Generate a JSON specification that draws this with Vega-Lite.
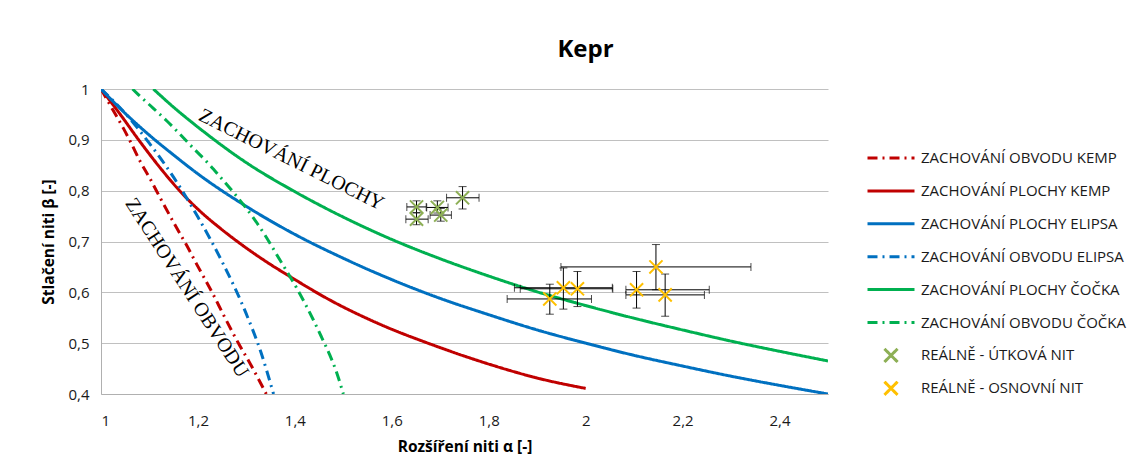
{
 "$schema": "https://vega.github.io/schema/vega-lite/v6.json",
 "width": 727, "height": 305,
 "autosize": {"type": "none"},
 "padding": {"left": 101, "top": 89, "right": 315, "bottom": 77},
 "background": "white",
 "title": {"text": "Kepr", "font": "Open Sans", "fontSize": 24, "fontWeight": "bold", "color": "#000", "anchor": "middle", "frame": "group", "dx": 121, "offset": 20},
 "config": {
  "view": {"stroke": null},
  "axis": {"labelFont": "Open Sans", "labelFontSize": 15, "labelColor": "#1a1a1a", "titleFont": "Open Sans", "titleFontSize": 15.5, "titleFontWeight": "bold", "titleColor": "#000", "tickSize": 0, "domainColor": "#b0b0b0", "gridColor": "#c0c0c0"},
  "legend": {"orient": "none", "legendX": 765, "legendY": 61, "padding": 0, "labelOffset": 5, "rowPadding": 16.9, "clipHeight": 16, "symbolSize": 2209, "symbolStrokeWidth": 3, "labelLimit": 400, "labelFont": "Open Sans", "labelFontSize": 15, "labelColor": "#1a1a1a", "symbolFillColor": "transparent"}
 },
 "data": {"values": [
  {"k":"line","s":"ZACHOVÁNÍ OBVODU KEMP","a":1,"b":1},
  {"k":"line","s":"ZACHOVÁNÍ OBVODU KEMP","a":1.025,"b":0.958},
  {"k":"line","s":"ZACHOVÁNÍ OBVODU KEMP","a":1.046,"b":0.923},
  {"k":"line","s":"ZACHOVÁNÍ OBVODU KEMP","a":1.063,"b":0.892},
  {"k":"line","s":"ZACHOVÁNÍ OBVODU KEMP","a":1.08,"b":0.859},
  {"k":"line","s":"ZACHOVÁNÍ OBVODU KEMP","a":1.101,"b":0.824},
  {"k":"line","s":"ZACHOVÁNÍ OBVODU KEMP","a":1.122,"b":0.786},
  {"k":"line","s":"ZACHOVÁNÍ OBVODU KEMP","a":1.156,"b":0.727},
  {"k":"line","s":"ZACHOVÁNÍ OBVODU KEMP","a":1.177,"b":0.692},
  {"k":"line","s":"ZACHOVÁNÍ OBVODU KEMP","a":1.197,"b":0.656},
  {"k":"line","s":"ZACHOVÁNÍ OBVODU KEMP","a":1.232,"b":0.595},
  {"k":"line","s":"ZACHOVÁNÍ OBVODU KEMP","a":1.252,"b":0.557},
  {"k":"line","s":"ZACHOVÁNÍ OBVODU KEMP","a":1.287,"b":0.494},
  {"k":"line","s":"ZACHOVÁNÍ OBVODU KEMP","a":1.307,"b":0.461},
  {"k":"line","s":"ZACHOVÁNÍ OBVODU KEMP","a":1.341,"b":0.4},

  {"k":"line","s":"ZACHOVÁNÍ PLOCHY KEMP","a":1,"b":1},
  {"k":"line","s":"ZACHOVÁNÍ PLOCHY KEMP","a":1.039,"b":0.951},
  {"k":"line","s":"ZACHOVÁNÍ PLOCHY KEMP","a":1.08,"b":0.897},
  {"k":"line","s":"ZACHOVÁNÍ PLOCHY KEMP","a":1.122,"b":0.845},
  {"k":"line","s":"ZACHOVÁNÍ PLOCHY KEMP","a":1.163,"b":0.799},
  {"k":"line","s":"ZACHOVÁNÍ PLOCHY KEMP","a":1.204,"b":0.760},
  {"k":"line","s":"ZACHOVÁNÍ PLOCHY KEMP","a":1.246,"b":0.726},
  {"k":"line","s":"ZACHOVÁNÍ PLOCHY KEMP","a":1.28,"b":0.701},
  {"k":"line","s":"ZACHOVÁNÍ PLOCHY KEMP","a":1.335,"b":0.664},
  {"k":"line","s":"ZACHOVÁNÍ PLOCHY KEMP","a":1.39,"b":0.631},
  {"k":"line","s":"ZACHOVÁNÍ PLOCHY KEMP","a":1.472,"b":0.585},
  {"k":"line","s":"ZACHOVÁNÍ PLOCHY KEMP","a":1.576,"b":0.537},
  {"k":"line","s":"ZACHOVÁNÍ PLOCHY KEMP","a":1.686,"b":0.496},
  {"k":"line","s":"ZACHOVÁNÍ PLOCHY KEMP","a":1.803,"b":0.458},
  {"k":"line","s":"ZACHOVÁNÍ PLOCHY KEMP","a":1.906,"b":0.430},
  {"k":"line","s":"ZACHOVÁNÍ PLOCHY KEMP","a":2.0,"b":0.411},

  {"k":"line","s":"ZACHOVÁNÍ PLOCHY ELIPSA","a":1,"b":1},
  {"k":"line","s":"ZACHOVÁNÍ PLOCHY ELIPSA","a":1.05,"b":0.952},
  {"k":"line","s":"ZACHOVÁNÍ PLOCHY ELIPSA","a":1.1,"b":0.909},
  {"k":"line","s":"ZACHOVÁNÍ PLOCHY ELIPSA","a":1.15,"b":0.870},
  {"k":"line","s":"ZACHOVÁNÍ PLOCHY ELIPSA","a":1.2,"b":0.833},
  {"k":"line","s":"ZACHOVÁNÍ PLOCHY ELIPSA","a":1.3,"b":0.769},
  {"k":"line","s":"ZACHOVÁNÍ PLOCHY ELIPSA","a":1.4,"b":0.714},
  {"k":"line","s":"ZACHOVÁNÍ PLOCHY ELIPSA","a":1.5,"b":0.667},
  {"k":"line","s":"ZACHOVÁNÍ PLOCHY ELIPSA","a":1.6,"b":0.625},
  {"k":"line","s":"ZACHOVÁNÍ PLOCHY ELIPSA","a":1.7,"b":0.588},
  {"k":"line","s":"ZACHOVÁNÍ PLOCHY ELIPSA","a":1.8,"b":0.556},
  {"k":"line","s":"ZACHOVÁNÍ PLOCHY ELIPSA","a":1.9,"b":0.526},
  {"k":"line","s":"ZACHOVÁNÍ PLOCHY ELIPSA","a":2.0,"b":0.5},
  {"k":"line","s":"ZACHOVÁNÍ PLOCHY ELIPSA","a":2.1,"b":0.476},
  {"k":"line","s":"ZACHOVÁNÍ PLOCHY ELIPSA","a":2.2,"b":0.455},
  {"k":"line","s":"ZACHOVÁNÍ PLOCHY ELIPSA","a":2.3,"b":0.435},
  {"k":"line","s":"ZACHOVÁNÍ PLOCHY ELIPSA","a":2.4,"b":0.417},
  {"k":"line","s":"ZACHOVÁNÍ PLOCHY ELIPSA","a":2.5,"b":0.4},

  {"k":"line","s":"ZACHOVÁNÍ OBVODU ELIPSA","a":1,"b":1},
  {"k":"line","s":"ZACHOVÁNÍ OBVODU ELIPSA","a":1.05,"b":0.952},
  {"k":"line","s":"ZACHOVÁNÍ OBVODU ELIPSA","a":1.1,"b":0.893},
  {"k":"line","s":"ZACHOVÁNÍ OBVODU ELIPSA","a":1.15,"b":0.826},
  {"k":"line","s":"ZACHOVÁNÍ OBVODU ELIPSA","a":1.2,"b":0.748},
  {"k":"line","s":"ZACHOVÁNÍ OBVODU ELIPSA","a":1.25,"b":0.66},
  {"k":"line","s":"ZACHOVÁNÍ OBVODU ELIPSA","a":1.3,"b":0.557},
  {"k":"line","s":"ZACHOVÁNÍ OBVODU ELIPSA","a":1.33,"b":0.482},
  {"k":"line","s":"ZACHOVÁNÍ OBVODU ELIPSA","a":1.356,"b":0.4},

  {"k":"line","s":"ZACHOVÁNÍ PLOCHY ČOČKA","a":1.108,"b":1.0},
  {"k":"line","s":"ZACHOVÁNÍ PLOCHY ČOČKA","a":1.15,"b":0.964},
  {"k":"line","s":"ZACHOVÁNÍ PLOCHY ČOČKA","a":1.2,"b":0.925},
  {"k":"line","s":"ZACHOVÁNÍ PLOCHY ČOČKA","a":1.3,"b":0.855},
  {"k":"line","s":"ZACHOVÁNÍ PLOCHY ČOČKA","a":1.4,"b":0.798},
  {"k":"line","s":"ZACHOVÁNÍ PLOCHY ČOČKA","a":1.5,"b":0.748},
  {"k":"line","s":"ZACHOVÁNÍ PLOCHY ČOČKA","a":1.6,"b":0.704},
  {"k":"line","s":"ZACHOVÁNÍ PLOCHY ČOČKA","a":1.7,"b":0.666},
  {"k":"line","s":"ZACHOVÁNÍ PLOCHY ČOČKA","a":1.8,"b":0.632},
  {"k":"line","s":"ZACHOVÁNÍ PLOCHY ČOČKA","a":1.9,"b":0.601},
  {"k":"line","s":"ZACHOVÁNÍ PLOCHY ČOČKA","a":2.0,"b":0.574},
  {"k":"line","s":"ZACHOVÁNÍ PLOCHY ČOČKA","a":2.1,"b":0.549},
  {"k":"line","s":"ZACHOVÁNÍ PLOCHY ČOČKA","a":2.2,"b":0.526},
  {"k":"line","s":"ZACHOVÁNÍ PLOCHY ČOČKA","a":2.3,"b":0.504},
  {"k":"line","s":"ZACHOVÁNÍ PLOCHY ČOČKA","a":2.4,"b":0.484},
  {"k":"line","s":"ZACHOVÁNÍ PLOCHY ČOČKA","a":2.5,"b":0.465},

  {"k":"line","s":"ZACHOVÁNÍ OBVODU ČOČKA","a":1.065,"b":1.0},
  {"k":"line","s":"ZACHOVÁNÍ OBVODU ČOČKA","a":1.077,"b":0.989},
  {"k":"line","s":"ZACHOVÁNÍ OBVODU ČOČKA","a":1.108,"b":0.962},
  {"k":"line","s":"ZACHOVÁNÍ OBVODU ČOČKA","a":1.136,"b":0.937},
  {"k":"line","s":"ZACHOVÁNÍ OBVODU ČOČKA","a":1.163,"b":0.911},
  {"k":"line","s":"ZACHOVÁNÍ OBVODU ČOČKA","a":1.19,"b":0.884},
  {"k":"line","s":"ZACHOVÁNÍ OBVODU ČOČKA","a":1.225,"b":0.850},
  {"k":"line","s":"ZACHOVÁNÍ OBVODU ČOČKA","a":1.246,"b":0.827},
  {"k":"line","s":"ZACHOVÁNÍ OBVODU ČOČKA","a":1.273,"b":0.797},
  {"k":"line","s":"ZACHOVÁNÍ OBVODU ČOČKA","a":1.314,"b":0.747},
  {"k":"line","s":"ZACHOVÁNÍ OBVODU ČOČKA","a":1.342,"b":0.707},
  {"k":"line","s":"ZACHOVÁNÍ OBVODU ČOČKA","a":1.362,"b":0.675},
  {"k":"line","s":"ZACHOVÁNÍ OBVODU ČOČKA","a":1.383,"b":0.642},
  {"k":"line","s":"ZACHOVÁNÍ OBVODU ČOČKA","a":1.404,"b":0.608},
  {"k":"line","s":"ZACHOVÁNÍ OBVODU ČOČKA","a":1.421,"b":0.578},
  {"k":"line","s":"ZACHOVÁNÍ OBVODU ČOČKA","a":1.438,"b":0.546},
  {"k":"line","s":"ZACHOVÁNÍ OBVODU ČOČKA","a":1.455,"b":0.512},
  {"k":"line","s":"ZACHOVÁNÍ OBVODU ČOČKA","a":1.472,"b":0.477},
  {"k":"line","s":"ZACHOVÁNÍ OBVODU ČOČKA","a":1.486,"b":0.443},
  {"k":"line","s":"ZACHOVÁNÍ OBVODU ČOČKA","a":1.5,"b":0.4},

  {"k":"pt","s":"REÁLNĚ - ÚTKOVÁ NIT","a":1.651,"b":0.768,"alo":1.631,"ahi":1.671,"blo":0.757,"bhi":0.780},
  {"k":"pt","s":"REÁLNĚ - ÚTKOVÁ NIT","a":1.651,"b":0.744,"alo":1.629,"ahi":1.675,"blo":0.733,"bhi":0.756},
  {"k":"pt","s":"REÁLNĚ - ÚTKOVÁ NIT","a":1.694,"b":0.767,"alo":1.672,"ahi":1.716,"blo":0.756,"bhi":0.780},
  {"k":"pt","s":"REÁLNĚ - ÚTKOVÁ NIT","a":1.701,"b":0.752,"alo":1.679,"ahi":1.723,"blo":0.740,"bhi":0.765},
  {"k":"pt","s":"REÁLNĚ - ÚTKOVÁ NIT","a":1.746,"b":0.786,"alo":1.713,"ahi":1.780,"blo":0.764,"bhi":0.808},
  {"k":"pt","s":"REÁLNĚ - OSNOVNÍ NIT","a":1.926,"b":0.587,"alo":1.838,"ahi":2.012,"blo":0.557,"bhi":0.616},
  {"k":"pt","s":"REÁLNĚ - OSNOVNÍ NIT","a":1.954,"b":0.609,"alo":1.853,"ahi":2.055,"blo":0.567,"bhi":0.648},
  {"k":"pt","s":"REÁLNĚ - OSNOVNÍ NIT","a":1.983,"b":0.607,"alo":1.865,"ahi":2.056,"blo":0.572,"bhi":0.641},
  {"k":"pt","s":"REÁLNĚ - OSNOVNÍ NIT","a":2.105,"b":0.605,"alo":2.083,"ahi":2.255,"blo":0.569,"bhi":0.641},
  {"k":"pt","s":"REÁLNĚ - OSNOVNÍ NIT","a":2.145,"b":0.650,"alo":1.949,"ahi":2.341,"blo":0.605,"bhi":0.694},
  {"k":"pt","s":"REÁLNĚ - OSNOVNÍ NIT","a":2.164,"b":0.595,"alo":2.083,"ahi":2.245,"blo":0.553,"bhi":0.636},

  {"k":"n1","t":"ZACHOVÁNÍ PLOCHY","a":1.393,"b":0.861},
  {"k":"n2","t":"ZACHOVÁNÍ OBVODU","a":1.177,"b":0.609}
 ]},
 "layer": [
  {
   "transform": [{"filter": "datum.k==='line'"}],
   "mark": {"type": "line", "strokeWidth": 3, "clip": true, "interpolate": "monotone"},
   "encoding": {
    "x": {"field": "a", "type": "quantitative", "title": "Rozšíření niti α [-]",
          "scale": {"domain": [1, 2.5], "nice": false, "zero": false},
          "axis": {"values": [1, 1.2, 1.4, 1.6, 1.8, 2, 2.2, 2.4], "labelExpr": "replace(format(datum.value,'~g'),'.',',')", "grid": false, "labelPadding": 19, "titlePadding": 11}},
    "y": {"field": "b", "type": "quantitative", "title": "Stlačení niti β [-]",
          "scale": {"domain": [0.4, 1], "nice": false, "zero": false},
          "axis": {"values": [0.4, 0.5, 0.6, 0.7, 0.8, 0.9, 1], "labelExpr": "replace(format(datum.value,'~g'),'.',',')", "grid": true, "labelPadding": 12, "titlePadding": 11}},
    "color": {"field": "s", "type": "nominal", "legend": {"title": null},
      "scale": {"domain": ["ZACHOVÁNÍ OBVODU KEMP", "ZACHOVÁNÍ PLOCHY KEMP", "ZACHOVÁNÍ PLOCHY ELIPSA", "ZACHOVÁNÍ OBVODU ELIPSA", "ZACHOVÁNÍ PLOCHY ČOČKA", "ZACHOVÁNÍ OBVODU ČOČKA", "REÁLNĚ - ÚTKOVÁ NIT", "REÁLNĚ - OSNOVNÍ NIT"],
                "range": ["#C00000", "#C00000", "#0070C0", "#0070C0", "#00B050", "#00B050", "#8DAF55", "#FFC000"]}},
    "strokeDash": {"field": "s", "type": "nominal", "legend": {"title": null},
      "scale": {"domain": ["ZACHOVÁNÍ OBVODU KEMP", "ZACHOVÁNÍ PLOCHY KEMP", "ZACHOVÁNÍ PLOCHY ELIPSA", "ZACHOVÁNÍ OBVODU ELIPSA", "ZACHOVÁNÍ PLOCHY ČOČKA", "ZACHOVÁNÍ OBVODU ČOČKA", "REÁLNĚ - ÚTKOVÁ NIT", "REÁLNĚ - OSNOVNÍ NIT"],
                "range": [[10, 5, 2, 5], [1, 0], [1, 0], [10, 5, 2, 5], [1, 0], [10, 5, 2, 5], [1, 0], [1, 0]]}}
   }
  },
  {
   "transform": [{"filter": "datum.k==='pt'"}],
   "mark": {"type": "rule", "color": "#000", "strokeWidth": 1},
   "encoding": {
    "x": {"field": "alo", "type": "quantitative", "title": "Rozšíření niti α [-]"},
    "x2": {"field": "ahi"},
    "y": {"field": "b", "type": "quantitative", "title": "Stlačení niti β [-]"}
   }
  },
  {
   "transform": [{"filter": "datum.k==='pt'"}],
   "mark": {"type": "rule", "color": "#000", "strokeWidth": 1},
   "encoding": {
    "x": {"field": "a", "type": "quantitative", "title": "Rozšíření niti α [-]"},
    "y": {"field": "blo", "type": "quantitative", "title": "Stlačení niti β [-]"},
    "y2": {"field": "bhi"}
   }
  },
  {
   "transform": [{"filter": "datum.k==='pt'"}, {"fold": ["alo", "ahi"], "as": ["end", "ex"]}],
   "mark": {"type": "tick", "orient": "vertical", "color": "#000", "size": 8, "thickness": 1},
   "encoding": {
    "x": {"field": "ex", "type": "quantitative", "title": "Rozšíření niti α [-]"},
    "y": {"field": "b", "type": "quantitative", "title": "Stlačení niti β [-]"}
   }
  },
  {
   "transform": [{"filter": "datum.k==='pt'"}, {"fold": ["blo", "bhi"], "as": ["end", "ey"]}],
   "mark": {"type": "tick", "orient": "horizontal", "color": "#000", "size": 8, "thickness": 1},
   "encoding": {
    "x": {"field": "a", "type": "quantitative", "title": "Rozšíření niti α [-]"},
    "y": {"field": "ey", "type": "quantitative", "title": "Stlačení niti β [-]"}
   }
  },
  {
   "transform": [{"filter": "datum.k==='pt'"}],
   "mark": {"type": "point", "filled": false, "opacity": 1, "size": 2209, "strokeWidth": 2},
   "encoding": {
    "x": {"field": "a", "type": "quantitative", "title": "Rozšíření niti α [-]"},
    "y": {"field": "b", "type": "quantitative", "title": "Stlačení niti β [-]"},
    "color": {"field": "s", "type": "nominal", "legend": {"title": null}},
    "shape": {"field": "s", "type": "nominal", "legend": {"title": null},
      "scale": {"domain": ["ZACHOVÁNÍ OBVODU KEMP", "ZACHOVÁNÍ PLOCHY KEMP", "ZACHOVÁNÍ PLOCHY ELIPSA", "ZACHOVÁNÍ OBVODU ELIPSA", "ZACHOVÁNÍ PLOCHY ČOČKA", "ZACHOVÁNÍ OBVODU ČOČKA", "REÁLNĚ - ÚTKOVÁ NIT", "REÁLNĚ - OSNOVNÍ NIT"],
                "range": ["stroke", "stroke", "stroke", "stroke", "stroke", "stroke", "M-0.28,-0.28L0.28,0.28M0.28,-0.28L-0.28,0.28", "M-0.28,-0.28L0.28,0.28M0.28,-0.28L-0.28,0.28"]}}
   }
  },
  {
   "transform": [{"filter": "datum.k==='n1'"}],
   "mark": {"type": "text", "angle": 26.5, "font": "Liberation Serif", "fontSize": 20, "color": "#000", "align": "center", "baseline": "middle"},
   "encoding": {
    "x": {"field": "a", "type": "quantitative", "title": "Rozšíření niti α [-]"},
    "y": {"field": "b", "type": "quantitative", "title": "Stlačení niti β [-]"},
    "text": {"field": "t"}
   }
  },
  {
   "transform": [{"filter": "datum.k==='n2'"}],
   "mark": {"type": "text", "angle": 57, "font": "Liberation Serif", "fontSize": 20, "color": "#000", "align": "center", "baseline": "middle"},
   "encoding": {
    "x": {"field": "a", "type": "quantitative", "title": "Rozšíření niti α [-]"},
    "y": {"field": "b", "type": "quantitative", "title": "Stlačení niti β [-]"},
    "text": {"field": "t"}
   }
  }
 ]
}
